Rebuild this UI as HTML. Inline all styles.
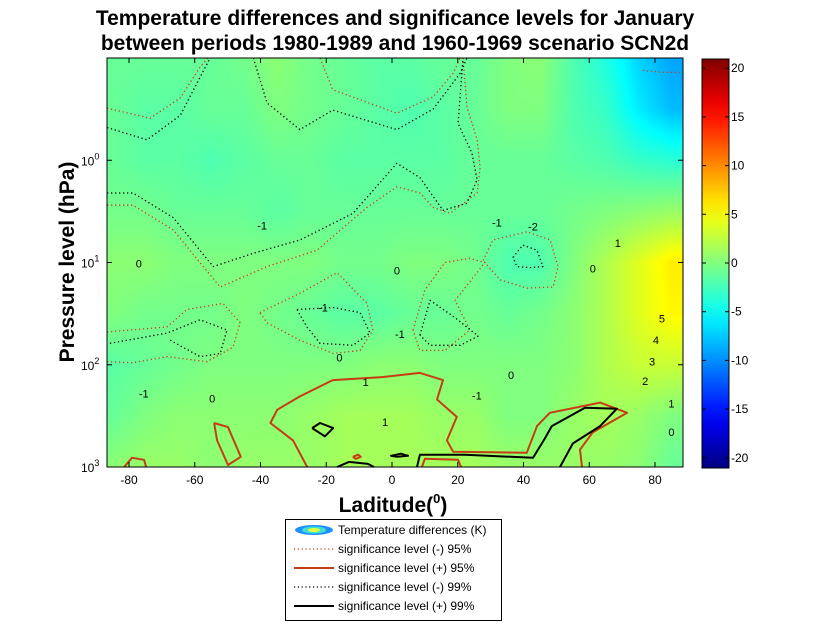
<!DOCTYPE html>
<html><head><meta charset="utf-8"><style>
body{margin:0;background:#fff;width:824px;height:633px;overflow:hidden;font-family:"Liberation Sans",Arial,sans-serif}
svg{position:absolute;left:0;top:0}
canvas{position:absolute;left:107px;top:58px}
</style></head><body>
<canvas id="heat" width="576" height="409"></canvas>
<svg id="chart" width="824" height="633"></svg>
<script>
// ---- data ----
const gridLats=[-85,-75,-65,-55,-45,-35,-25,-15,-5,5,15,25,35,45,55,65,75,85];
const gridLogP=[-1,-0.5,0,0.5,1,1.5,2,2.5,3];
const row0=[-1,-1,-1,-1,-0.5,0.5,-0.5,-1,-1.5,-1.5,-1,-1,0,0.5,-2,-4,-7,-9];
const row1=[-1,-1.5,-1.5,-1,-1,0,-0.5,-1,-1.5,-2,-1.5,-1,0,0,-2,-3,-6,-8];
const row2=[-1,-1.5,-1.5,-2,-1.5,-1,-1,-1.5,-1.5,-1.5,-1.5,-1,-1,-1,-1.5,-2,-3,-3.5];
const row3=[-0.5,-0.5,-1,-1,-1,-1.5,-1,-1,-1,-1,-1,-1,-1,-1,-0.5,0,0.5,1];
const row4=[0.5,0.5,0,0,0,0,0,-0.5,-0.5,0,0,-0.5,-2,-2,0,2,4,6];
const row5=[0,-0.5,-0.5,-0.5,0,-0.5,-1,-1.5,-1.5,-1,-1,-0.5,-1,-0.5,0.5,2,4,5.5];
const row6=[-1.5,-1,-0.5,0,0,0,0,0,0.5,0.5,0,0,0,0,0.5,2,3,3];
const row7=[-1,0,0.5,0.5,0.5,0.5,1,1.5,1.5,1.5,1,1,0,0,1,1.5,1,0];
const row8=[0.5,1,1,0.5,1,1,1,1.5,1.5,1.5,1.5,1.5,1,1,1,1,0.5,-1];
const xTicks=[-80,-60,-40,-20,0,20,40,60,80];
const yTicks=[0,1,2,3];
const cbTicks=[20,15,10,5,0,-5,-10,-15,-20];
// contours: [lat, log10(p)]
const negDot95=[
 [[-86.7,-0.51],[-73.6,-0.41],[-64.4,-0.61],[-58.4,-0.91],[-56,-1]],
 [[-21.9,-1],[-18,-0.69],[1.5,-0.46],[12.5,-0.62],[18.6,-0.85],[20.7,-1]],
 [[-86.7,0.44],[-78.8,0.44],[-66.6,0.68],[-52.3,1.24],[-38,1.04],[-22.8,0.88],[-7.6,0.46],[1.5,0.26],[8.5,0.32],[12.5,0.46],[17.6,0.52],[25.9,0.32],[26.8,0.07],[25.9,-0.2],[22.8,-0.52],[21.6,-1]],
 [[-86.7,1.68],[-68.4,1.63],[-62.4,1.46],[-51.4,1.40],[-46.2,1.59],[-48.4,1.83],[-56.3,1.97],[-68.4,1.92],[-78.8,1.98],[-86.7,1.97]],
 [[-40.2,1.49],[-28,1.30],[-16.7,1.10],[-7.6,1.40],[-5.8,1.66],[-9.7,1.86],[-17.9,1.89],[-28,1.76],[-38,1.59],[-40.2,1.49]],
 [[27.7,0.98],[30.7,0.78],[41.1,0.70],[48.1,0.78],[50.5,1.04],[49,1.24],[41.1,1.25],[32.9,1.17],[27.7,0.98]],
 [[6.4,1.66],[10,1.27],[16.1,1.0],[23.7,0.96],[28.3,1.0],[19.2,1.37],[23.7,1.66],[16.1,1.86],[8.5,1.86],[6.4,1.66]],
 [[76.3,-0.88],[82,-0.86],[88.5,-0.86]]
];
const negDot99=[
 [[-86.7,-0.32],[-74.5,-0.2],[-64.4,-0.44],[-58.4,-0.81],[-55.3,-1]],
 [[-42.2,-1],[-38,-0.56],[-28,-0.3],[-18,-0.49],[1.5,-0.3],[12.5,-0.5],[20.7,-0.85],[22.8,-1]],
 [[-86.7,0.32],[-78.8,0.32],[-66.6,0.56],[-54.4,1.04],[-42.2,0.91],[-28,0.78],[-11.9,0.52],[1.5,0.03],[8.5,0.17],[15.5,0.49],[22.8,0.42],[25.9,0.19],[24.3,-0.07],[20.1,-0.36],[21.6,-1]],
 [[-85.8,1.79],[-68.4,1.69],[-58.4,1.56],[-50.2,1.66],[-52.3,1.89],[-58.4,1.92],[-67.5,1.76]],
 [[-28.9,1.46],[-17.9,1.44],[-9.7,1.49],[-6.7,1.69],[-11.9,1.81],[-21.9,1.79],[-25.9,1.63],[-28.9,1.46]],
 [[36.8,0.95],[39.8,0.83],[44.1,0.88],[45.9,1.04],[42,1.05],[38,1.04],[36.8,0.95]],
 [[8.5,1.71],[11.6,1.37],[19.2,1.54],[26.2,1.72],[20.7,1.81],[11.6,1.81],[8.5,1.71]]
];
const pos95=[
 [[-25.8,3],[-30.1,2.74],[-37,2.57],[-34.9,2.44],[-28,2.31],[-18,2.15],[-2.7,2.12],[8.5,2.08],[15.5,2.15],[13.7,2.34],[19.7,2.51],[16.7,2.74],[18.6,2.85],[41,2.86],[44.1,2.6],[48,2.47],[63.3,2.37],[71.5,2.47],[61.1,2.66],[57.2,2.83],[57.8,3]],
 [[-54.1,2.57],[-49.9,2.61],[-46,2.9],[-49.9,2.98],[-53.2,2.74],[-54.1,2.57]],
 [[-81.5,3],[-79.1,2.91],[-75.4,2.93],[-74.8,3]],
 [[-11.9,2.9],[-10.3,2.88],[-9.5,2.9],[-11,2.92],[-11.9,2.9]],
 [[9.1,3],[10,2.92],[20.1,2.93],[21,3]]
];
const pos99=[
 [[7.6,3],[8.5,2.88],[22.2,2.88],[42.9,2.91],[46.5,2.72],[48.6,2.6],[58.7,2.42],[68.4,2.43],[63.3,2.6],[55,2.77],[51.1,3]],
 [[-24.3,2.62],[-21.9,2.57],[-17.9,2.62],[-20.4,2.7],[-24.3,2.62]],
 [[1.5,2.9],[-0.3,2.89],[2.7,2.87],[4.9,2.89],[1.5,2.9]],
 [[-16.7,3],[-13.1,2.95],[-7.3,2.97],[-5.5,3]]
];
const labels=[
 ["-1",-39.5,0.64],["0",-77,1.01],["0",1.5,1.08],["-1",-21,1.44],["-1",2.4,1.7],["0",-16,1.93],["1",-8,2.17],["1",-2.1,2.56],["0",-54.7,2.33],["-1",-75.5,2.28],
 ["-1",31.9,0.61],["-2",42.9,0.65],["1",68.7,0.81],["0",61.1,1.06],["5",82.1,1.55],["4",80.3,1.76],["3",79.1,1.97],["2",77,2.16],["1",85,2.38],["0",85,2.66],["0",36.2,2.1],["-1",25.8,2.3]
];
// ---- axes ----
const PX0=107,PX1=683,PY0=58,PY1=467;
const xS=lat=>392+lat*3.2875;
const yS=lp=>PY0+(lp+1)*102.25;
const cbY=v=>263-v*9.74;
function jet(v){let t=(v+21)/42;t=Math.max(0,Math.min(1,t));
 const f=x=>Math.max(0,Math.min(1,x));
 return [f(1.5-Math.abs(4*t-3)),f(1.5-Math.abs(4*t-2)),f(1.5-Math.abs(4*t-1))].map(c=>Math.round(c*255));}
const grid=[row0,row1,row2,row3,row4,row5,row6,row7,row8];
function val(lat,lp){
 let i=(lat-gridLats[0])/10; i=Math.max(0,Math.min(gridLats.length-1.0001,i));
 let j=(lp-gridLogP[0])/0.5; j=Math.max(0,Math.min(gridLogP.length-1.0001,j));
 const i0=Math.floor(i),j0=Math.floor(j),fi=i-i0,fj=j-j0;
 const a=grid[j0][i0],b=grid[j0][i0+1],c=grid[j0+1][i0],d=grid[j0+1][i0+1];
 return (a*(1-fi)+b*fi)*(1-fj)+(c*(1-fi)+d*fi)*fj;}
const cv=document.getElementById('heat'),ctx=cv.getContext('2d');
const img=ctx.createImageData(576,409);
for(let y=0;y<409;y++)for(let x=0;x<576;x++){
 const lat=(x+PX0-392)/3.2875,lp=(y+0.5)/102.25-1;
 const c=jet(val(lat,lp)),k=(y*576+x)*4;
 img.data[k]=c[0];img.data[k+1]=c[1];img.data[k+2]=c[2];img.data[k+3]=255;}
ctx.putImageData(img,0,0);
const S=document.getElementById('chart'),NS='http://www.w3.org/2000/svg';
function el(t,a,txt){const e=document.createElementNS(NS,t);for(const k in a)e.setAttribute(k,a[k]);if(txt!==undefined)e.textContent=txt;S.appendChild(e);return e;}
function line(pts,color,w,dash,name){
 const d=pts.map((p,i)=>(i?'L':'M')+xS(p[0]).toFixed(1)+' '+yS(p[1]).toFixed(1)).join(' ');
 const e=el('path',{d:d,fill:'none',stroke:color,'stroke-width':w,'stroke-linejoin':'round'});
 if(dash)e.setAttribute('stroke-dasharray',dash);
 
 }
negDot95.forEach(c=>line(c,'#c8401e',1.3,'1.3 2.7','contour-neg-95'));
negDot99.forEach(c=>line(c,'#000',1.3,'1.3 2.7','contour-neg-99'));
pos95.forEach(c=>line(c,'#c83c14',2,null,'contour-pos-95'));
pos99.forEach(c=>line(c,'#000',2,null,'contour-pos-99'));
labels.forEach(l=>{const t=el('text',{x:xS(l[1]),y:yS(l[2])+4,'font-size':11,'text-anchor':'middle',fill:'#000'},l[0]);
 });
const fr=el('rect',{x:PX0,y:PY0,width:PX1-PX0,height:PY1-PY0,fill:'none',stroke:'#000','stroke-width':1});

xTicks.forEach(v=>{const x=xS(v);
 el('line',{x1:x,x2:x,y1:PY1,y2:PY1-5,stroke:'#000'});el('line',{x1:x,x2:x,y1:PY0,y2:PY0+5,stroke:'#000'});
 const t=el('text',{x:x,y:484,'font-size':12,'text-anchor':'middle'},String(v));
 });
yTicks.forEach(v=>{const y=yS(v);
 el('line',{x1:PX0,x2:PX0+5,y1:y,y2:y,stroke:'#000'});el('line',{x1:PX1,x2:PX1-5,y1:y,y2:y,stroke:'#000'});
 const t=el('text',{x:81,y:y+5,'font-size':12},'10');
 const s=el('tspan',{dy:-6,'font-size':9},String(v));t.appendChild(s);
 });
const defs=el('defs',{});const g=document.createElementNS(NS,'linearGradient');
g.setAttribute('id','jetg');g.setAttribute('x1','0');g.setAttribute('y1','1');g.setAttribute('x2','0');g.setAttribute('y2','0');defs.appendChild(g);
for(let i=0;i<=20;i++){const c=jet(-21+42*i/20);const st=document.createElementNS(NS,'stop');
 st.setAttribute('offset',i/20);st.setAttribute('stop-color','rgb('+c.join(',')+')');g.appendChild(st);}
const cb=el('rect',{x:702,y:59,width:27,height:409,fill:'url(#jetg)',stroke:'#000'});

cbTicks.forEach(v=>{const y=cbY(v);
 el('line',{x1:702,x2:706,y1:y,y2:y,stroke:'#000'});el('line',{x1:729,x2:725,y1:y,y2:y,stroke:'#000'});
 const t=el('text',{x:731,y:y+4,'font-size':12},String(v));
 });
</script>
<svg width="824" height="633" style="pointer-events:none">
<text x="395" y="25" font-size="21" font-weight="bold" text-anchor="middle">Temperature differences and significance levels for January</text>
<text x="395" y="50" font-size="21" font-weight="bold" text-anchor="middle">between periods 1980-1989 and 1960-1969 scenario SCN2d</text>
<text transform="translate(74,262) rotate(-90)" font-size="21" font-weight="bold" text-anchor="middle">Pressure level (hPa)</text>
<text x="393" y="512" font-size="21" font-weight="bold" text-anchor="middle">Laditude(<tspan dy="-9" font-size="13">0</tspan><tspan dy="9">)</tspan></text>
<g>
<rect x="285.5" y="519.5" width="216" height="101" fill="#fff" stroke="#000"/>
<ellipse cx="314" cy="530" rx="19" ry="5" fill="#1e90ff"/>
<ellipse cx="314" cy="530" rx="12" ry="3.5" fill="#40e0d0"/><ellipse cx="314" cy="530" rx="6" ry="2" fill="#e8ff40"/>
<line x1="294" x2="334" y1="549" y2="549" stroke="#c8401e" stroke-width="1.2" stroke-dasharray="1.2 2.6"/>
<line x1="294" x2="334" y1="568" y2="568" stroke="#c83c14" stroke-width="2"/>
<line x1="294" x2="334" y1="587" y2="587" stroke="#000" stroke-width="1.2" stroke-dasharray="1.2 2.6"/>
<line x1="294" x2="334" y1="606" y2="606" stroke="#000" stroke-width="2"/>
<g font-size="12"><text x="338" y="534">Temperature differences (K)</text>
<text x="338" y="553">significance level (-) 95%</text>
<text x="338" y="572">significance level (+) 95%</text>
<text x="338" y="591">significance level (-) 99%</text>
<text x="338" y="610">significance level (+) 99%</text></g>
</g>
</svg>
</body></html>
